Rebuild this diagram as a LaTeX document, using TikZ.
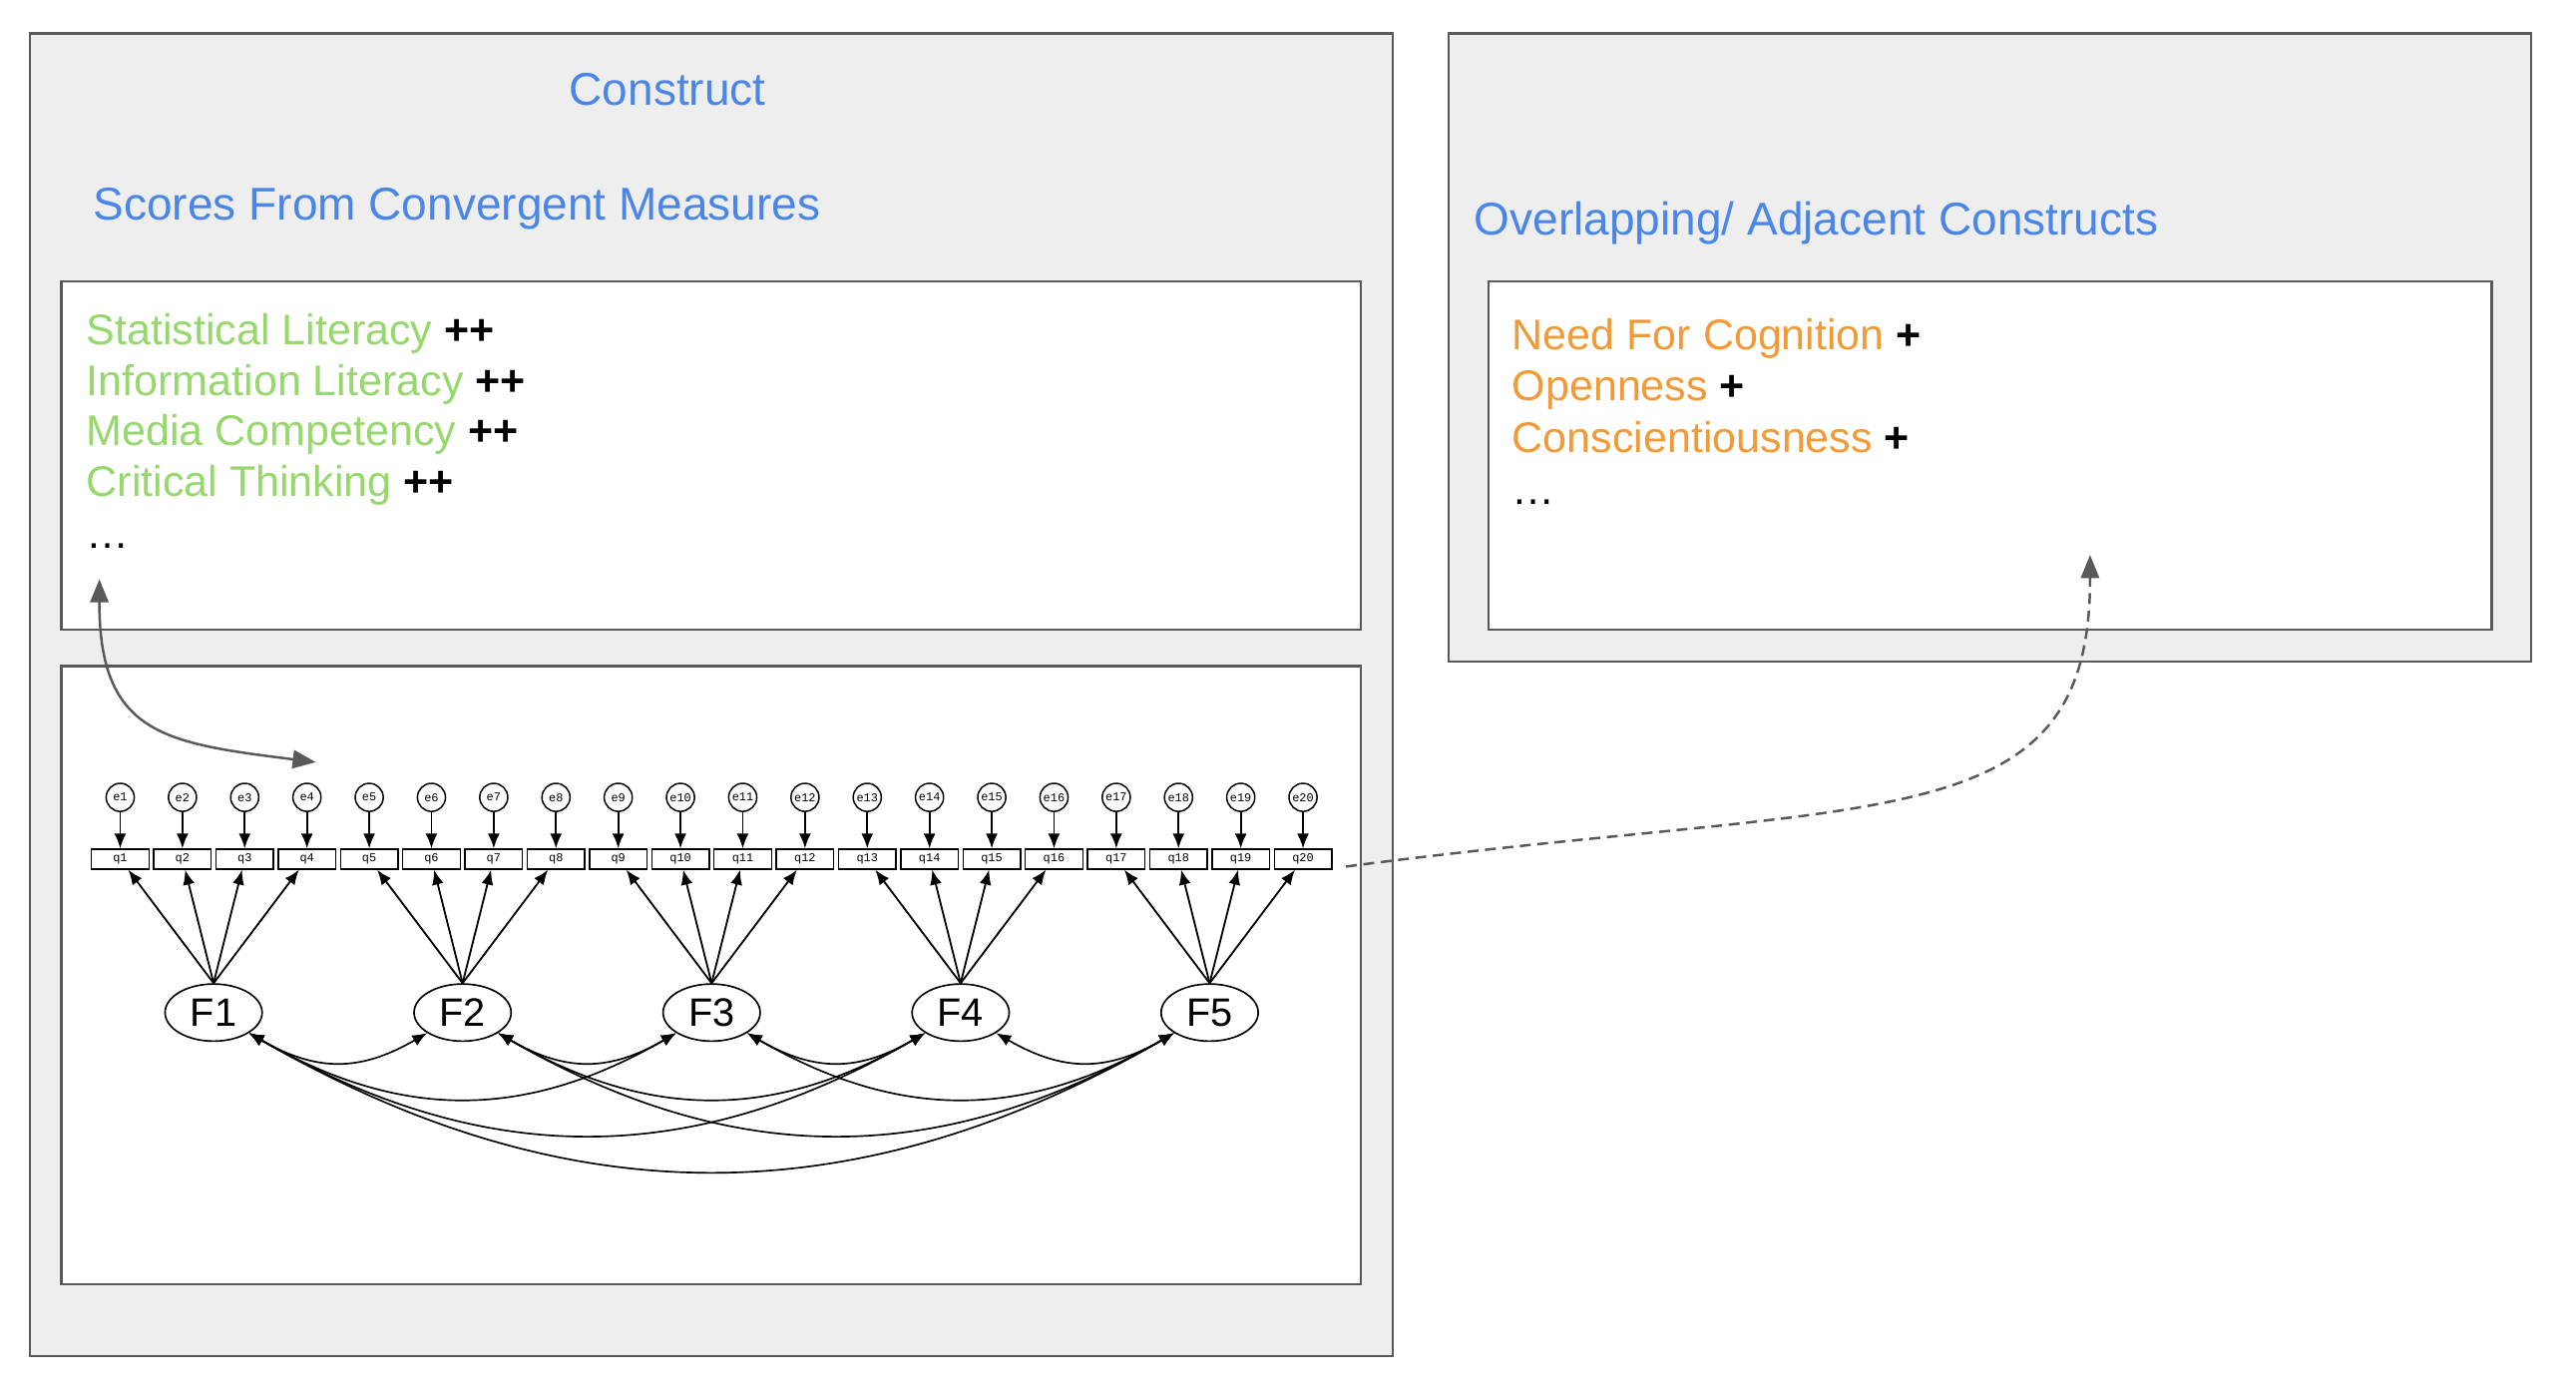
\documentclass[tikz,border=0pt]{standalone}
\usepackage{fontspec}
\setmainfont{Liberation Sans}
\setmonofont{Liberation Mono}
\usetikzlibrary{arrows.meta,shapes.geometric}
\definecolor{panelfill}{HTML}{EEEEEE}
\definecolor{panelline}{HTML}{595959}
\definecolor{headblue}{HTML}{4A86E8}
\definecolor{litgreen}{HTML}{96D86E}
\definecolor{traitorange}{HTML}{F09A38}

\begin{document}
\begin{tikzpicture}[x=0.5pt,y=-0.5pt]
  \tikzset{PanelStyle/.style = {
    draw          = panelline,
    fill          = panelfill,
    line width    = 0.7pt
    }
  }
  \tikzset{BoxStyle/.style = {
    draw          = panelline,
    fill          = white,
    line width    = 0.7pt
    }
  }
  \tikzset{HeadStyle/.style = {
    text          = headblue,
    inner sep     = 0pt,
    font          = \fontsize{13.9pt}{16pt}\selectfont
    }
  }
  \tikzset{ListStyle/.style = {
    anchor        = base west,
    text          = black,
    inner sep     = 0pt,
    font          = \fontsize{13pt}{15pt}\selectfont
    }
  }
  \tikzset{ErrorStyle/.style = {
    shape         = circle,
    draw          = black,
    fill          = white,
    line width    = 0.45pt,
    inner sep     = 0pt,
    minimum size  = 8.5pt,
    font          = \fontsize{3.6pt}{4pt}\ttfamily
    }
  }
  \tikzset{ItemStyle/.style = {
    shape          = rectangle,
    draw           = black,
    fill           = white,
    line width     = 0.45pt,
    inner sep      = 0pt,
    minimum width  = 17.4pt,
    minimum height = 6pt,
    font           = \fontsize{3.6pt}{4pt}\ttfamily
    }
  }
  \tikzset{FactorStyle/.style = {
    shape          = ellipse,
    draw           = black,
    fill           = white,
    line width     = 0.5pt,
    inner sep      = 0pt,
    minimum width  = 29.4pt,
    minimum height = 17.3pt,
    font           = \fontsize{12pt}{14pt}\selectfont
    }
  }
  \tikzset{PathStyle/.style = {
    draw          = black,
    line width    = 0.55pt,
    -{Latex[length=4.5pt,width=3.6pt]}
    }
  }
  \tikzset{CovStyle/.style = {
    draw          = black,
    line width    = 0.5pt,
    {Latex[length=4.5pt,width=3.6pt]}-{Latex[length=4.5pt,width=3.6pt]}
    }
  }
  \tikzset{LinkStyle/.style = {
    draw          = panelline,
    line width    = 0.75pt
    }
  }

  \useasboundingbox (0, 0) rectangle (1560, 845.85);

  % panels
  \draw[PanelStyle] (18.1, 20.2) rectangle (843.3, 821);
  \draw[BoxStyle] (37.2, 170.5) rectangle (824.2, 381.2);
  \draw[BoxStyle] (37.2, 403.3) rectangle (824.2, 777.4);
  \draw[PanelStyle] (877.4, 20.2) rectangle (1533, 400.6);
  \draw[BoxStyle] (901.5, 170.5) rectangle (1509, 381.3);

  % headings and lists
  \node[HeadStyle, anchor=base](Construct) at (404.3, 64) {Construct};
  \node[HeadStyle, anchor=base west](Scores) at (56.2, 133.5) {Scores From Convergent Measures};
  \node[HeadStyle, anchor=base west](Adjacent) at (892.5, 142.4) {Overlapping/ Adjacent Constructs};
  \node[ListStyle](S1) at (52, 208.7) {\textcolor{litgreen}{Statistical Literacy} \textbf{++}};
  \node[ListStyle](S2) at (52, 239.4) {\textcolor{litgreen}{Information Literacy} \textbf{++}};
  \node[ListStyle](S3) at (52, 269.9) {\textcolor{litgreen}{Media Competency} \textbf{++}};
  \node[ListStyle](S4) at (52, 300.6) {\textcolor{litgreen}{Critical Thinking} \textbf{++}};
  \node[ListStyle](S5) at (52, 332.3) {…};
  \node[ListStyle](N1) at (915.4, 211.7) {\textcolor{traitorange}{Need For Cognition} \textbf{+}};
  \node[ListStyle](N2) at (915.4, 242.5) {\textcolor{traitorange}{Openness} \textbf{+}};
  \node[ListStyle](N3) at (915.4, 273.8) {\textcolor{traitorange}{Conscientiousness} \textbf{+}};
  \node[ListStyle](N4) at (915.4, 305.6) {…};

  % measurement model
	\node[ErrorStyle](E1) at (72.8, 482.8) {e1};
	\node[ErrorStyle](E2) at (110.5, 482.8) {e2};
	\node[ErrorStyle](E3) at (148.2, 482.8) {e3};
	\node[ErrorStyle](E4) at (185.9, 482.8) {e4};
	\node[ErrorStyle](E5) at (223.6, 482.8) {e5};
	\node[ErrorStyle](E6) at (261.3, 482.8) {e6};
	\node[ErrorStyle](E7) at (299.0, 482.8) {e7};
	\node[ErrorStyle](E8) at (336.7, 482.8) {e8};
	\node[ErrorStyle](E9) at (374.4, 482.8) {e9};
	\node[ErrorStyle](E10) at (412.1, 482.8) {e10};
	\node[ErrorStyle](E11) at (449.8, 482.8) {e11};
	\node[ErrorStyle](E12) at (487.5, 482.8) {e12};
	\node[ErrorStyle](E13) at (525.2, 482.8) {e13};
	\node[ErrorStyle](E14) at (562.9, 482.8) {e14};
	\node[ErrorStyle](E15) at (600.6, 482.8) {e15};
	\node[ErrorStyle](E16) at (638.3, 482.8) {e16};
	\node[ErrorStyle](E17) at (676.0, 482.8) {e17};
	\node[ErrorStyle](E18) at (713.7, 482.8) {e18};
	\node[ErrorStyle](E19) at (751.4, 482.8) {e19};
	\node[ErrorStyle](E20) at (789.1, 482.8) {e20};
	\node[ItemStyle](Q1) at (72.8, 520.2) {q1};
	\node[ItemStyle](Q2) at (110.5, 520.2) {q2};
	\node[ItemStyle](Q3) at (148.2, 520.2) {q3};
	\node[ItemStyle](Q4) at (185.9, 520.2) {q4};
	\node[ItemStyle](Q5) at (223.6, 520.2) {q5};
	\node[ItemStyle](Q6) at (261.3, 520.2) {q6};
	\node[ItemStyle](Q7) at (299.0, 520.2) {q7};
	\node[ItemStyle](Q8) at (336.7, 520.2) {q8};
	\node[ItemStyle](Q9) at (374.4, 520.2) {q9};
	\node[ItemStyle](Q10) at (412.1, 520.2) {q10};
	\node[ItemStyle](Q11) at (449.8, 520.2) {q11};
	\node[ItemStyle](Q12) at (487.5, 520.2) {q12};
	\node[ItemStyle](Q13) at (525.2, 520.2) {q13};
	\node[ItemStyle](Q14) at (562.9, 520.2) {q14};
	\node[ItemStyle](Q15) at (600.6, 520.2) {q15};
	\node[ItemStyle](Q16) at (638.3, 520.2) {q16};
	\node[ItemStyle](Q17) at (676.0, 520.2) {q17};
	\node[ItemStyle](Q18) at (713.7, 520.2) {q18};
	\node[ItemStyle](Q19) at (751.4, 520.2) {q19};
	\node[ItemStyle](Q20) at (789.1, 520.2) {q20};
	\node[FactorStyle](F1) at (129.35, 613.1) {F1};
	\node[FactorStyle](F2) at (280.15, 613.1) {F2};
	\node[FactorStyle](F3) at (430.95, 613.1) {F3};
	\node[FactorStyle](F4) at (581.75, 613.1) {F4};
	\node[FactorStyle](F5) at (732.55, 613.1) {F5};
	\draw[PathStyle](E1) -- (Q1);
	\draw[PathStyle](E2) -- (Q2);
	\draw[PathStyle](E3) -- (Q3);
	\draw[PathStyle](E4) -- (Q4);
	\draw[PathStyle](E5) -- (Q5);
	\draw[PathStyle](E6) -- (Q6);
	\draw[PathStyle](E7) -- (Q7);
	\draw[PathStyle](E8) -- (Q8);
	\draw[PathStyle](E9) -- (Q9);
	\draw[PathStyle](E10) -- (Q10);
	\draw[PathStyle](E11) -- (Q11);
	\draw[PathStyle](E12) -- (Q12);
	\draw[PathStyle](E13) -- (Q13);
	\draw[PathStyle](E14) -- (Q14);
	\draw[PathStyle](E15) -- (Q15);
	\draw[PathStyle](E16) -- (Q16);
	\draw[PathStyle](E17) -- (Q17);
	\draw[PathStyle](E18) -- (Q18);
	\draw[PathStyle](E19) -- (Q19);
	\draw[PathStyle](E20) -- (Q20);
	\draw[PathStyle](F1.north) -- (Q1);
	\draw[PathStyle](F1.north) -- (Q2);
	\draw[PathStyle](F1.north) -- (Q3);
	\draw[PathStyle](F1.north) -- (Q4);
	\draw[PathStyle](F2.north) -- (Q5);
	\draw[PathStyle](F2.north) -- (Q6);
	\draw[PathStyle](F2.north) -- (Q7);
	\draw[PathStyle](F2.north) -- (Q8);
	\draw[PathStyle](F3.north) -- (Q9);
	\draw[PathStyle](F3.north) -- (Q10);
	\draw[PathStyle](F3.north) -- (Q11);
	\draw[PathStyle](F3.north) -- (Q12);
	\draw[PathStyle](F4.north) -- (Q13);
	\draw[PathStyle](F4.north) -- (Q14);
	\draw[PathStyle](F4.north) -- (Q15);
	\draw[PathStyle](F4.north) -- (Q16);
	\draw[PathStyle](F5.north) -- (Q17);
	\draw[PathStyle](F5.north) -- (Q18);
	\draw[PathStyle](F5.north) -- (Q19);
	\draw[PathStyle](F5.north) -- (Q20);
	\draw[CovStyle](F1.-30) to[out=-30, in=-150, looseness=1.12] (F2.-150);
	\draw[CovStyle](F2.-30) to[out=-30, in=-150, looseness=1.12] (F3.-150);
	\draw[CovStyle](F3.-30) to[out=-30, in=-150, looseness=1.12] (F4.-150);
	\draw[CovStyle](F4.-30) to[out=-30, in=-150, looseness=1.12] (F5.-150);
	\draw[CovStyle](F1.-30) to[out=-30, in=-150, looseness=1.05] (F3.-150);
	\draw[CovStyle](F2.-30) to[out=-30, in=-150, looseness=1.05] (F4.-150);
	\draw[CovStyle](F3.-30) to[out=-30, in=-150, looseness=1.05] (F5.-150);
	\draw[CovStyle](F1.-30) to[out=-30, in=-150, looseness=1.03] (F4.-150);
	\draw[CovStyle](F2.-30) to[out=-30, in=-150, looseness=1.03] (F5.-150);
	\draw[CovStyle](F1.-30) to[out=-30, in=-150, looseness=1.02] (F5.-150);

  % links between the panels
  \coordinate (ScoreTip) at (60.2, 350.7);
  \coordinate (ModelTip) at (191.3, 461.5);
  \coordinate (DashStart) at (815.1, 524.7);
  \coordinate (DashTip) at (1265.7, 336);
  \draw[LinkStyle, {Triangle[length=7pt,width=5.5pt]}-{Triangle[length=7pt,width=5.5pt]}]
    (ScoreTip) .. controls (60, 445) and (100, 450) .. (ModelTip);
  \draw[LinkStyle, dash pattern=on 3.3pt off 2pt, -{Triangle[length=7pt,width=5.5pt]}]
    (DashStart) .. controls (1140, 482) and (1266, 510) .. (DashTip);
\end{tikzpicture}
\end{document}
